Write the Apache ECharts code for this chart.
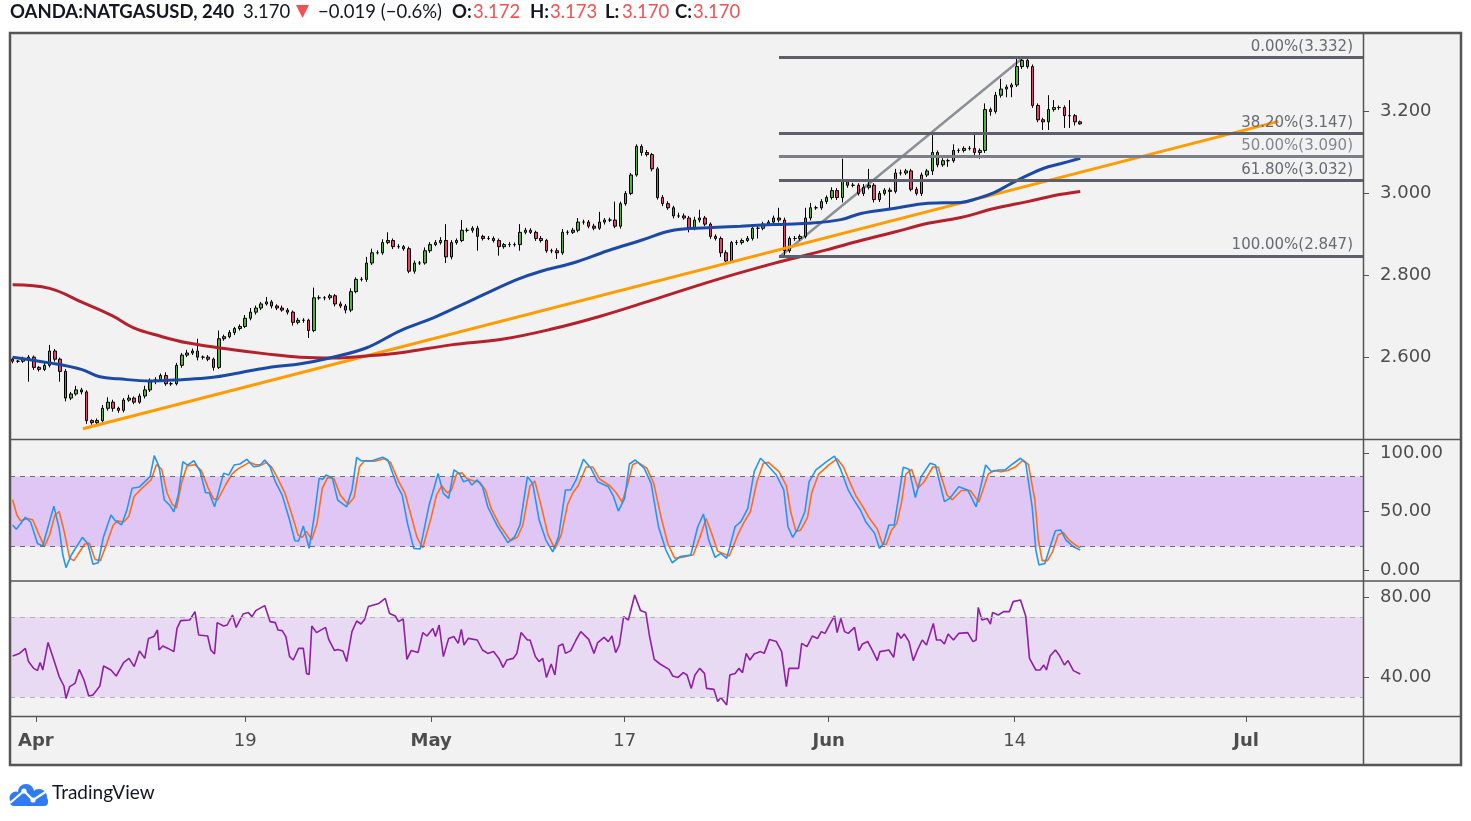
<!DOCTYPE html>
<html>
<head>
<meta charset="utf-8">
<title>OANDA:NATGASUSD, 240</title>
<script src="https://cdn.jsdelivr.net/npm/echarts@6.0.0/dist/echarts.min.js"></script>
<style>
html, body { margin: 0; padding: 0; background: #fff; }
#chart { width: 1471px; height: 821px; }
</style>
</head>
<body>
<div id="chart"></div>
<script>
// number of 4h slots across the plot (bars + empty space on the right)
var N_SLOTS = 256;

// candle closes, one per 4h slot (open = previous close)
var firstOpen = 2.595;
var closes = [
    2.590, 2.590, 2.595, 2.600, 2.575, 2.570, 2.580, 2.615, 2.595, 2.565,
    2.500, 2.510, 2.520, 2.515, 2.445, 2.440, 2.445, 2.475, 2.490, 2.475,
    2.470, 2.495, 2.500, 2.490, 2.505, 2.520, 2.540, 2.545, 2.555, 2.535,
    2.535, 2.580, 2.605, 2.610, 2.615, 2.600, 2.600, 2.595, 2.575, 2.645,
    2.650, 2.660, 2.670, 2.675, 2.695, 2.710, 2.720, 2.730, 2.735, 2.725,
    2.720, 2.715, 2.710, 2.685, 2.690, 2.690, 2.665, 2.745, 2.745, 2.745,
    2.750, 2.730, 2.725, 2.715, 2.760, 2.790, 2.790, 2.830, 2.855, 2.855,
    2.880, 2.885, 2.870, 2.870, 2.865, 2.810, 2.830, 2.830, 2.860, 2.875,
    2.880, 2.885, 2.845, 2.880, 2.885, 2.910, 2.910, 2.915, 2.895, 2.890,
    2.890, 2.885, 2.870, 2.875, 2.875, 2.875, 2.905, 2.910, 2.905, 2.890,
    2.885, 2.860, 2.860, 2.855, 2.905, 2.905, 2.910, 2.930, 2.930, 2.920,
    2.915, 2.930, 2.935, 2.935, 2.920, 2.975, 3.000, 3.045, 3.115, 3.100,
    3.095, 3.060, 2.990, 2.975, 2.965, 2.945, 2.945, 2.940, 2.915, 2.935,
    2.940, 2.925, 2.895, 2.890, 2.855, 2.835, 2.880, 2.880, 2.885, 2.890,
    2.915, 2.915, 2.925, 2.930, 2.940, 2.935, 2.860, 2.890, 2.890, 2.895,
    2.940, 2.965, 2.965, 2.980, 2.990, 3.007, 2.990, 3.030, 3.020, 3.020,
    3.000, 3.015, 3.020, 2.985, 3.000, 3.008, 3.005, 3.050, 3.050, 3.055,
    3.010, 3.000, 3.045, 3.055, 3.100, 3.070, 3.080, 3.080, 3.105, 3.105,
    3.110, 3.110, 3.100, 3.105, 3.205, 3.200, 3.240, 3.255, 3.260, 3.265,
    3.310, 3.325, 3.310, 3.215, 3.180, 3.175, 3.205, 3.210, 3.210, 3.190,
    3.190, 3.175, 3.170
];

// wick lengths above / below the body, in thousandths
var upWick = [
    4, 3, 6, 5, 4, 3, 8, 15, 5, 4,
    6, 5, 10, 5, 4, 3, 5, 8, 12, 6,
    4, 5, 8, 4, 6, 10, 8, 6, 5, 8,
    4, 6, 5, 8, 6, 30, 4, 5, 4, 20,
    5, 6, 4, 5, 8, 10, 6, 5, 12, 5,
    4, 6, 5, 4, 6, 5, 4, 25, 6, 4,
    5, 4, 6, 5, 8, 5, 6, 15, 10, 6,
    8, 20, 5, 6, 4, 5, 6, 5, 8, 6,
    6, 8, 40, 6, 5, 25, 6, 5, 6, 4,
    6, 5, 5, 4, 6, 5, 20, 6, 5, 4,
    6, 4, 5, 6, 8, 5, 6, 10, 6, 5,
    6, 25, 5, 6, 45, 5, 6, 5, 5, 5,
    6, 4, 5, 6, 6, 5, 8, 6, 5, 8,
    20, 5, 4, 5, 5, 6, 4, 6, 5, 6,
    8, 5, 6, 5, 6, 25, 6, 5, 6, 5,
    25, 12, 5, 6, 5, 8, 6, 55, 5, 6,
    5, 8, 40, 5, 6, 5, 6, 10, 8, 5,
    5, 6, 6, 5, 50, 5, 6, 5, 15, 5,
    5, 6, 40, 5, 15, 5, 8, 25, 6, 5,
    20, 7, 5, 5, 5, 5, 35, 18, 5, 5,
    38, 4, 3
];
var downWick = [
    5, 4, 4, 55, 6, 5, 4, 5, 6, 25,
    8, 5, 4, 6, 8, 5, 4, 5, 6, 8,
    6, 5, 4, 5, 4, 6, 5, 6, 5, 5,
    5, 4, 6, 5, 5, 8, 6, 5, 8, 4,
    5, 4, 6, 5, 4, 5, 6, 5, 4, 6,
    5, 4, 6, 8, 5, 6, 18, 4, 5, 6,
    5, 6, 5, 8, 5, 4, 5, 6, 5, 4,
    5, 4, 6, 5, 5, 5, 6, 5, 4, 5,
    4, 5, 15, 6, 5, 4, 5, 6, 35, 5,
    4, 5, 22, 5, 6, 5, 15, 5, 4, 6,
    5, 5, 6, 15, 5, 6, 4, 5, 6, 5,
    5, 4, 6, 5, 5, 6, 5, 4, 4, 8,
    5, 6, 5, 6, 5, 6, 5, 4, 10, 5,
    6, 5, 6, 5, 10, 7, 5, 6, 5, 4,
    5, 25, 5, 4, 5, 6, 17, 5, 6, 5,
    5, 6, 5, 5, 6, 5, 6, 12, 6, 5,
    5, 6, 5, 7, 6, 5, 45, 5, 6, 5,
    5, 5, 6, 5, 10, 6, 5, 15, 5, 6,
    5, 5, 6, 15, 6, 10, 5, 6, 20, 25,
    5, 6, 5, 6, 6, 20, 20, 5, 6, 30,
    30, 9, 2
];

// moving averages: [slot, price]
var blueMA = [
    [0, 2.600], [7, 2.586], [13, 2.570], [16.5, 2.552], [20, 2.547], [26, 2.542],
    [32, 2.545], [37.5, 2.550], [43, 2.562], [49, 2.576], [54.5, 2.584], [60, 2.598],
    [67, 2.623], [73.4, 2.665], [79.6, 2.696], [83, 2.716], [89, 2.752], [95.5, 2.790],
    [100, 2.810], [106, 2.830], [112.6, 2.860], [118.8, 2.885], [125, 2.910], [131.5, 2.916],
    [137.7, 2.920], [144, 2.924], [150.4, 2.927], [156.7, 2.936], [160.5, 2.951], [166.7, 2.963],
    [173.2, 2.976], [179.4, 2.978], [182.6, 2.988], [185.7, 3.002], [188.9, 3.024], [192, 3.044],
    [195, 3.061], [198.4, 3.073], [202, 3.086]
];
var redMA = [
    [0, 2.777], [7, 2.768], [13.3, 2.733], [19, 2.700], [22.8, 2.672], [28, 2.651],
    [33, 2.635], [41.7, 2.618], [48, 2.608], [54.4, 2.600], [60.7, 2.598], [67, 2.603],
    [73.4, 2.611], [83, 2.630], [92.3, 2.643], [101.8, 2.668], [111.2, 2.700], [120.7, 2.738],
    [132.6, 2.787], [144, 2.829], [154, 2.862], [160.5, 2.885], [166.7, 2.905], [173.2, 2.927],
    [179.4, 2.941], [185.7, 2.963], [192, 2.980], [198.4, 2.998], [202, 3.005]
];

// drawings
var trendLine = [[13.3, 2.425], [239.5, 3.176]];
var swingLine = [[145.3, 2.847], [191.2, 3.332]];
var fibStart = 145;
var fibRatios = ['0.00', '38.20', '50.00', '61.80', '100.00'];
var fibPrices = [3.332, 3.147, 3.090, 3.032, 2.847];

// stochastic %K / %D: [slot, value]
var stochK = [
    [0, 38.5], [0.7, 34.8], [2.4, 45], [3.4, 41], [4.7, 22.7], [5.7, 20.5], [6.7, 37], [7.8, 54.6],
    [8.8, 35.6], [9.5, 12.8], [10.1, 2], [11.1, 12.8], [13.2, 27.9], [14.2, 22.7], [15.2, 5], [16.2, 6.2],
    [17.2, 28.5], [18.6, 47], [19.3, 42.7], [20.6, 38.5], [21.6, 51], [22.6, 69.8], [24, 71], [26, 79.8],
    [26.8, 97.7], [27.7, 88.3], [28.7, 59.8], [29.7, 55.5], [30.5, 49.8], [31.4, 65.5], [32.2, 92.5], [33.1, 89.7],
    [34.3, 93.4], [35.5, 84], [36.5, 66], [37.2, 66], [38.2, 54], [39.9, 82.6], [40.9, 81.2], [41.9, 89.7],
    [43, 90.6], [44.3, 94.6], [45.6, 88.3], [46.7, 88.9], [47.7, 94], [48.7, 88.3], [49.7, 75.5], [51, 64],
    [52.4, 42.7], [53.4, 25], [54.1, 24.8], [55, 37.6], [56.1, 18.5], [57.1, 47], [58, 78.4], [58.7, 77.5],
    [59.3, 81.2], [60.5, 78.4], [61.5, 59.8], [63.2, 54], [64.2, 68.4], [65.1, 96.3], [65.9, 93.4], [68, 93.4],
    [70, 96.3], [71, 94], [72.7, 72.6], [73.7, 64], [74.7, 40], [75.9, 18.5], [77.1, 18], [78.8, 55.5],
    [79.8, 71.2], [80.5, 82.6], [81.5, 65.5], [82.5, 61.2], [83.5, 85.5], [84.5, 82.6], [85.3, 75.5], [86.2, 77],
    [86.9, 72.6], [87.9, 77], [88.9, 71.2], [89.9, 54], [91.6, 38.5], [93.7, 23.4], [95, 28.5], [96, 38.5],
    [97.4, 79.8], [98.4, 74], [99.6, 43], [100.9, 25.6], [102.2, 15.5], [103.3, 28.5], [104.6, 68.4], [105.6, 68.4],
    [106.6, 77], [108, 94.6], [109.4, 87], [110.7, 75.5], [112.7, 71.2], [113.7, 62.7], [114.6, 50.4], [115.8, 61.2],
    [116.7, 90.6], [117.8, 94], [119.5, 87], [120.8, 74], [122.2, 37], [123.6, 17], [124.8, 6.2], [126.3, 11.4],
    [128.3, 12.8], [129.6, 36.5], [130.7, 47.9], [131.7, 25.6], [132.9, 10.8], [134, 14.2], [135.1, 9.9], [136.7, 37],
    [137.8, 41.3], [139.1, 52.7], [140.3, 84], [141.5, 95.5], [142.5, 91.2], [144.5, 81.2], [145.9, 68.4], [146.7, 37],
    [147.6, 27.9], [148.6, 35.6], [149.9, 49.8], [150.7, 75.5], [152, 85.5], [154, 92.6], [155.5, 97.4], [156.7, 85.5],
    [158.1, 68.4], [159.1, 60.4], [160.4, 51.3], [161.4, 41.3], [163.1, 31.3], [164, 18.5], [164.8, 22.7], [165.8, 38.5],
    [166.8, 38.5], [167.7, 64], [168.5, 87.8], [169.6, 86], [170.8, 62], [171.9, 79.8], [173.6, 91.2], [174.6, 89.7],
    [176.3, 58.4], [177.3, 61.2], [179, 71.2], [180.7, 68.4], [182.3, 54], [184.1, 89.7], [185.2, 84], [186.5, 85.5],
    [187.8, 85.5], [189.2, 90.6], [190.7, 95.5], [191.7, 91.2], [192.9, 54], [193.6, 17], [194.2, 4.2], [195.3, 5.6],
    [196.3, 19.9], [197.3, 33.6], [198.3, 34.2], [199.3, 25.6], [200.7, 19.9], [202, 17]
];
var stochD = [
    [0, 60], [0.8, 47], [1.5, 42], [2.8, 44], [3.8, 43], [5, 30], [6, 20], [7, 30], [8, 47], [8.8, 50],
    [9.8, 32], [10.8, 10], [11.6, 8], [13.6, 22], [14.5, 23], [15.6, 9], [16.6, 8], [17.6, 20], [19, 38], [19.8, 42],
    [21, 41], [22, 46], [23, 63], [24.5, 70], [26.2, 77], [27.2, 90], [28.2, 86], [29.2, 66], [30.2, 56], [31, 53],
    [32, 75], [33, 89], [34.5, 90], [35.7, 85], [37, 70], [38, 61], [38.8, 60], [40.2, 72], [41.5, 82], [42.5, 86],
    [43.6, 89], [44.8, 92], [46, 90], [47.2, 90], [48, 92], [49, 88], [50.2, 78], [51.5, 66], [53, 45], [54, 30],
    [54.8, 28], [55.6, 33], [56.6, 26], [57.6, 40], [58.6, 70], [59.6, 79], [60.8, 78], [62, 64], [63.5, 56], [64.6, 62],
    [65.6, 88], [66.5, 93], [68.5, 93], [70.3, 95], [71.5, 92], [73, 76], [74.2, 66], [75.3, 48], [76.5, 28], [77.6, 19],
    [79.2, 45], [80.2, 64], [81.2, 72], [82.2, 66], [83, 68], [84, 82], [85, 83], [86, 78], [87.3, 76], [88.4, 75],
    [89.5, 68], [90.5, 53], [92.2, 38], [94.2, 25], [95.5, 28], [96.5, 38], [97.9, 72], [98.8, 76], [100, 55], [101.3, 30],
    [102.6, 18], [103.8, 30], [105, 56], [106, 66], [107, 72], [108.5, 88], [109.8, 88], [111, 78], [113, 72], [114.2, 66],
    [115.3, 58], [116.3, 72], [117.3, 90], [118.3, 92], [120, 87], [121.3, 74], [122.7, 45], [124, 22], [125.3, 10], [126.8, 11],
    [128.8, 13], [130.2, 30], [131.2, 44], [132.2, 32], [133.4, 16], [134.5, 14], [135.6, 12], [137.2, 30], [138.3, 40], [139.6, 50],
    [140.8, 75], [142, 91], [143, 92], [145, 84], [146.4, 72], [147.2, 50], [148.2, 33], [149.1, 34], [150.4, 45], [151.2, 66],
    [152.5, 82], [154.5, 90], [156, 95], [157.2, 88], [158.6, 73], [159.6, 63], [160.9, 54], [162, 45], [163.6, 35], [164.6, 22],
    [165.3, 22], [166.3, 34], [167.3, 40], [168.2, 58], [169, 82], [170.1, 86], [171.3, 70], [172.4, 75], [174.1, 88], [175.1, 88],
    [176.8, 64], [177.8, 60], [179.5, 68], [181.2, 68], [182.8, 58], [184.6, 82], [185.7, 85], [187, 84], [188.3, 85], [189.7, 88],
    [191.2, 94], [192.2, 90], [193.4, 60], [194.1, 25], [194.8, 8], [195.8, 8], [196.8, 16], [197.8, 30], [198.8, 32], [199.8, 26],
    [201.2, 21], [202, 19]
];

// RSI: [slot, value]
var rsi = [
    [0, 50.5], [1.3, 51.8], [2.4, 54.3], [3, 47.7], [4, 44.3], [4.7, 43.2], [5.2, 47.2], [5.7, 43.5], [6.7, 57.3], [7.8, 48.5],
    [8.8, 40.2], [9.7, 35.5], [10.1, 29.3], [10.8, 35.2], [11.8, 36.8], [12.6, 43.8], [13.5, 38.5], [14.4, 30.5], [15.2, 31], [16.5, 35.5],
    [17.2, 45.5], [18.6, 43.5], [19.6, 40.5], [21, 47.2], [22, 49.3], [23, 45.2], [24, 53], [25, 49.3], [25.7, 59.3], [26.7, 60.2],
    [27.4, 63.5], [27.7, 53.5], [28.4, 55.5], [29.4, 54.3], [30.5, 52.7], [31.1, 64.3], [31.8, 68.2], [33.5, 68.5], [34.5, 72.7], [35.2, 61],
    [36.9, 60.5], [37.5, 53.5], [38.2, 51.5], [38.7, 67.2], [39.9, 65.5], [40.6, 66], [41.6, 71], [42.3, 64.8], [43.6, 71.5], [44.6, 72.2],
    [45.3, 70.2], [46, 73.2], [47.7, 75.7], [48.7, 67.7], [49.7, 67.2], [50.2, 63.5], [51, 63.2], [51.7, 60.2], [52.4, 50.2], [53.1, 48.5],
    [54.1, 54.3], [55, 54.3], [55.6, 41.8], [56.1, 41.3], [56.6, 65.5], [57.5, 62.2], [59.2, 64.8], [59.8, 58.8], [60.9, 53.2], [61.5, 53.8],
    [62.5, 53], [63.2, 47.7], [64.2, 62.7], [65.1, 68], [65.9, 66.5], [66.6, 68.8], [67.3, 75.2], [68.3, 76], [69.3, 76.8], [70.5, 79.3],
    [71.3, 71.8], [72.4, 70.5], [73, 67.7], [73.9, 69], [74.6, 48.8], [75.4, 53.2], [76.7, 52.2], [77.6, 62.2], [78.4, 60.5], [79.5, 64.3],
    [80, 60.2], [80.7, 66], [81.5, 50.2], [82.5, 59.3], [83.5, 60.2], [84.3, 56.8], [84.9, 63.8], [85.4, 56], [86.2, 59.3], [87.9, 58.5],
    [88.9, 53.5], [89.9, 51.8], [91, 52.7], [92, 49.3], [92.8, 44.8], [93.5, 48.5], [94.7, 49.3], [95.4, 51.8], [96.2, 62.2], [97.4, 58.5],
    [97.9, 58.5], [98.9, 50.2], [99.6, 47.7], [100.3, 49.3], [101, 39.8], [101.9, 46.5], [102.6, 41], [103.3, 55.5], [104.1, 56.5], [104.6, 51.8],
    [105.6, 53.2], [106.6, 58.5], [107.5, 62.7], [109, 58.8], [110, 51.8], [110.7, 57.2], [111.9, 59.8], [112.7, 57.7], [113.4, 60.5], [114.1, 52.2],
    [114.8, 56], [115.6, 70.2], [116.5, 68.5], [117.7, 81], [118.8, 73.2], [119.8, 72.3], [120.5, 60.5], [121.4, 48.8], [122.5, 46.5], [124.2, 43.8],
    [124.9, 40.5], [125.9, 39.8], [126.9, 42.2], [127.6, 41], [128.4, 34.3], [129.1, 41], [130, 44.3], [130.9, 41.8], [131.3, 34.3], [132.7, 33.8],
    [133.4, 27.7], [134, 29.8], [135.1, 26], [135.7, 41], [136.7, 41.8], [137.4, 44.3], [138.1, 42.2], [138.8, 51.8], [139.5, 48.5], [140.3, 51.5],
    [141.5, 52.7], [142.2, 51.8], [143.2, 58.8], [144.5, 57.7], [145.5, 52.7], [146.4, 35.2], [146.9, 44.3], [148.7, 44.3], [149.3, 56.8], [150.3, 55.2],
    [151.3, 60.5], [152.3, 59.3], [153, 62.7], [153.7, 61.8], [154.7, 66.8], [155.5, 70.5], [156, 62.2], [156.7, 69.3], [157.4, 62.7], [158.1, 61.8],
    [159.3, 64.8], [160.1, 53.2], [160.8, 56.5], [161.8, 57.7], [162.7, 53.2], [163.6, 48.2], [164.1, 52.7], [165.8, 53.5], [166.7, 49.8], [167.4, 62.2],
    [168.1, 59.3], [168.7, 61.5], [169.6, 57.7], [170.4, 48.2], [171.2, 53.5], [172.1, 58.5], [172.9, 56], [174.2, 66.8], [174.8, 58.5], [175.6, 58.5],
    [176.3, 56.5], [177, 61.5], [178, 58.5], [179, 61.8], [180.7, 62.2], [181.7, 57.7], [182.3, 58.5], [182.7, 74.8], [183.4, 68.5], [184.4, 69.3],
    [185, 66.5], [185.4, 72.2], [186.5, 71], [187.5, 72.7], [188.6, 72.7], [189.3, 77.7], [190.7, 78.5], [191.7, 70.2], [192.4, 49.3], [193.6, 43.5],
    [194.4, 43.5], [195.1, 46], [195.6, 43.5], [196.3, 50.5], [197.3, 53.5], [198, 51], [199, 46], [199.7, 48.2], [200.7, 43.2], [202, 41.5]
];

// axis ticks
var priceTicks = [2.6, 2.8, 3.0, 3.2];
var stochTicks = [0, 50, 100];
var rsiTicks = [40, 80];
var timeTickPos = [4.4, 44.0, 79.2, 115.8, 154.4, 189.6, 233.4];
var timeTickText = ['Apr', '19', 'May', '17', 'Jun', '14', 'Jul'];

// legend line at the top
var headerSymbol = 'OANDA:NATGASUSD, 240';
var headerLast = ['3.170', '−0.019 (−0.6%)'];
var headerKeys = ['O:', 'H:', 'L:', 'C:'];
var headerValues = ['3.172', '3.173', '3.170', '3.170'];

var AXIS_FONT = 'DejaVu Sans';
var LABEL_COLOR = '#4d4d4d';
var HEAD_FONT = 'Lato';

// build OHLC rows for the candlestick series
var candleData = closes.map(function (c, i) {
    var o = i === 0 ? firstOpen : closes[i - 1];
    var hi = Math.max(o, c) + upWick[i] / 1000;
    var lo = Math.min(o, c) - downWick[i] / 1000;
    return [o, c, lo, hi];
});
var slots = [];
for (var s = 0; s < N_SLOTS; s++) slots.push(String(s));

function valueAxis(grid, show) {
    return {
        type: 'value', gridIndex: grid, min: -0.5, max: N_SLOTS - 0.5,
        show: show, splitLine: { show: false }, axisLine: { onZero: false }
    };
}

function rightAxis(grid, min, max, ticks, digits) {
    return {
        type: 'value', gridIndex: grid, position: 'right', min: min, max: max,
        axisLine: { show: false, onZero: false },
        splitLine: { show: false },
        axisTick: { show: true, length: 6, customValues: ticks, lineStyle: { color: '#555', width: 1 } },
        axisLabel: {
            customValues: ticks, margin: 17, fontSize: 18, fontFamily: AXIS_FONT, color: LABEL_COLOR,
            formatter: function (v) { return v.toFixed(digits); }
        }
    };
}

function headText(x, text, bold, color) {
    return {
        type: 'text', x: x, y: 3, silent: true,
        style: { text: text, fontFamily: HEAD_FONT, fontSize: 18.5, fontWeight: bold ? 'bold' : 'normal', fill: color }
    };
}

var fibMarks = fibPrices.map(function (p, k) {
    var mid = k === 2;
    return [{
        coord: [fibStart, p],
        lineStyle: { color: mid ? '#7c7f88' : '#5d606a', width: 3, type: 'solid' },
        label: {
            formatter: fibRatios[k] + '%(' + p.toFixed(3) + ')',
            color: mid ? '#84878f' : '#676a72'
        }
    }, { coord: [N_SLOTS - 0.5, p] }];
});

// header pieces, placed like the TradingView legend
var headerItems = [
    headText(10, headerSymbol, true, '#131722'),
    headText(243, headerLast[0], false, '#131722'),
    { type: 'polygon', silent: true, shape: { points: [[296, 5], [309, 5], [302.5, 18]] }, style: { fill: '#f05252' } },
    headText(318, headerLast[1], false, '#131722')
];
var keyX = [452, 530, 605, 675];
var valX = [473, 550, 622, 693];
headerKeys.forEach(function (k, i) {
    headerItems.push(headText(keyX[i], k, true, '#131722'));
    headerItems.push(headText(valX[i], headerValues[i], false, '#f05252'));
});

var chart = echarts.init(document.getElementById('chart'));

var option = {
    animation: false,
    backgroundColor: '#ffffff',
    grid: [
        { left: 10, top: 33, width: 1353, height: 406 },
        { left: 10, top: 440, width: 1353, height: 141 },
        { left: 10, top: 582, width: 1353, height: 134 }
    ],
    xAxis: [
        { type: 'category', gridIndex: 0, data: slots, boundaryGap: true, show: false, axisLine: { onZero: false } },
        valueAxis(0, false),
        valueAxis(1, false),
        {
            type: 'value', gridIndex: 2, min: -0.5, max: N_SLOTS - 0.5, position: 'bottom',
            axisLine: { show: false, onZero: false },
            splitLine: { show: false },
            axisTick: { show: true, length: 6, customValues: timeTickPos, lineStyle: { color: '#555' } },
            axisLabel: {
                customValues: timeTickPos, margin: 16, fontSize: 18, fontFamily: AXIS_FONT, color: LABEL_COLOR,
                formatter: function (v) {
                    var t = timeTickText[timeTickPos.indexOf(v)];
                    return isNaN(+t) ? '{m|' + t + '}' : t;
                },
                rich: { m: { fontWeight: 'bold', fontSize: 18, fontFamily: AXIS_FONT, color: LABEL_COLOR } }
            }
        }
    ],
    yAxis: [
        rightAxis(0, 2.4, 3.392, priceTicks, 3),
        rightAxis(1, -9.4, 111.1, stochTicks, 2),
        rightAxis(2, 20.5, 87.5, rsiTicks, 2)
    ],
    series: [
        // fib retracement + swing line
        {
            type: 'line', xAxisIndex: 1, yAxisIndex: 0, data: swingLine, z: 1,
            showSymbol: false, lineStyle: { color: '#8d8f96', width: 2.5 },
            markLine: {
                silent: true, symbol: ['none', 'none'], animation: false,
                label: { show: true, position: 'insideEndTop', distance: [10, 3], fontSize: 15, fontFamily: AXIS_FONT },
                data: fibMarks
            }
        },
        {
            type: 'candlestick', xAxisIndex: 0, yAxisIndex: 0, data: candleData, barWidth: 3, z: 2,
            itemStyle: { color: '#4fb437', color0: '#f23a6c', borderColor: '#000', borderColor0: '#000', borderWidth: 1 }
        },
        {
            type: 'line', xAxisIndex: 1, yAxisIndex: 0, data: trendLine, z: 3,
            showSymbol: false, lineStyle: { color: '#ff9c00', width: 3 }
        },
        {
            type: 'line', xAxisIndex: 1, yAxisIndex: 0, data: redMA, z: 4, smooth: 0.4,
            showSymbol: false, lineStyle: { color: '#b5202a', width: 3 }
        },
        {
            type: 'line', xAxisIndex: 1, yAxisIndex: 0, data: blueMA, z: 4, smooth: 0.4,
            showSymbol: false, lineStyle: { color: '#1a4aa6', width: 3 }
        },
        // stochastic band
        {
            type: 'line', xAxisIndex: 2, yAxisIndex: 1, data: [[-0.5, 50], [N_SLOTS - 0.5, 50]], z: 1,
            showSymbol: false, lineStyle: { opacity: 0 },
            markArea: { silent: true, itemStyle: { color: '#e0c6f4' }, data: [[{ yAxis: 20 }, { yAxis: 80 }]] },
            markLine: {
                silent: true, symbol: ['none', 'none'], label: { show: false },
                lineStyle: { color: '#6b6b75', type: [5, 5], width: 1 },
                data: [{ yAxis: 80 }, { yAxis: 20 }]
            }
        },
        {
            type: 'line', xAxisIndex: 2, yAxisIndex: 1, data: stochD, z: 3,
            showSymbol: false, lineStyle: { color: '#ff6d1a', width: 1.6 }
        },
        {
            type: 'line', xAxisIndex: 2, yAxisIndex: 1, data: stochK, z: 4,
            showSymbol: false, lineStyle: { color: '#2196f3', width: 1.6 }
        },
        // RSI band
        {
            type: 'line', xAxisIndex: 3, yAxisIndex: 2, data: [[-0.5, 50], [N_SLOTS - 0.5, 50]], z: 1,
            showSymbol: false, lineStyle: { opacity: 0 },
            markArea: { silent: true, itemStyle: { color: '#e8daf2' }, data: [[{ yAxis: 30 }, { yAxis: 70 }]] },
            markLine: {
                silent: true, symbol: ['none', 'none'], label: { show: false },
                lineStyle: { color: '#b3b0b8', type: [5, 5], width: 1 },
                data: [{ yAxis: 70 }, { yAxis: 30 }]
            }
        },
        {
            type: 'line', xAxisIndex: 3, yAxisIndex: 2, data: rsi, z: 3,
            showSymbol: false, lineStyle: { color: '#8e1fa6', width: 1.6 }
        }
    ],
    graphic: [
        { type: 'rect', z: -100, silent: true, shape: { x: 10, y: 33, width: 1451, height: 732 }, style: { fill: '#f2f2f2' } },
        { type: 'line', z: 100, silent: true, shape: { x1: 10, y1: 439.5, x2: 1461, y2: 439.5 }, style: { stroke: '#555', lineWidth: 1.5 } },
        { type: 'line', z: 100, silent: true, shape: { x1: 10, y1: 581, x2: 1461, y2: 581 }, style: { stroke: '#555', lineWidth: 1.5 } },
        { type: 'line', z: 100, silent: true, shape: { x1: 10, y1: 716.5, x2: 1461, y2: 716.5 }, style: { stroke: '#555', lineWidth: 1.5 } },
        { type: 'line', z: 100, silent: true, shape: { x1: 1363.5, y1: 33, x2: 1363.5, y2: 765 }, style: { stroke: '#555', lineWidth: 1.5 } },
        { type: 'rect', z: 100, silent: true, shape: { x: 10, y: 33, width: 1451, height: 732 }, style: { fill: 'none', stroke: '#555', lineWidth: 2.5 } },
        { type: 'group', silent: true, children: headerItems },
        // TradingView logo
        {
            type: 'group', silent: true,
            children: [
                { type: 'circle', shape: { cx: 26, cy: 792, r: 8 }, style: { fill: '#2e7cf0' } },
                { type: 'circle', shape: { cx: 16, cy: 798, r: 6.5 }, style: { fill: '#2e7cf0' } },
                { type: 'circle', shape: { cx: 39, cy: 797, r: 8 }, style: { fill: '#2e7cf0' } },
                { type: 'rect', shape: { x: 10, y: 797, width: 38, height: 9, r: 4 }, style: { fill: '#2e7cf0' } },
                { type: 'polyline', shape: { points: [[10, 803], [24, 791], [33, 800], [47, 791]] }, style: { stroke: '#fff', lineWidth: 2.2, fill: 'none' } },
                { type: 'circle', shape: { cx: 24, cy: 791, r: 2.6 }, style: { fill: '#fff' } },
                { type: 'circle', shape: { cx: 33, cy: 800, r: 2.6 }, style: { fill: '#fff' } }
            ]
        },
        {
            type: 'text', left: 52, top: 783, silent: true,
            style: { text: 'TradingView', fontFamily: 'Lato', fontSize: 19, fill: '#131722' }
        }
    ]
};

chart.setOption(option);

window.addEventListener('resize', function () {
    chart.resize();
});
</script>
</body>
</html>
